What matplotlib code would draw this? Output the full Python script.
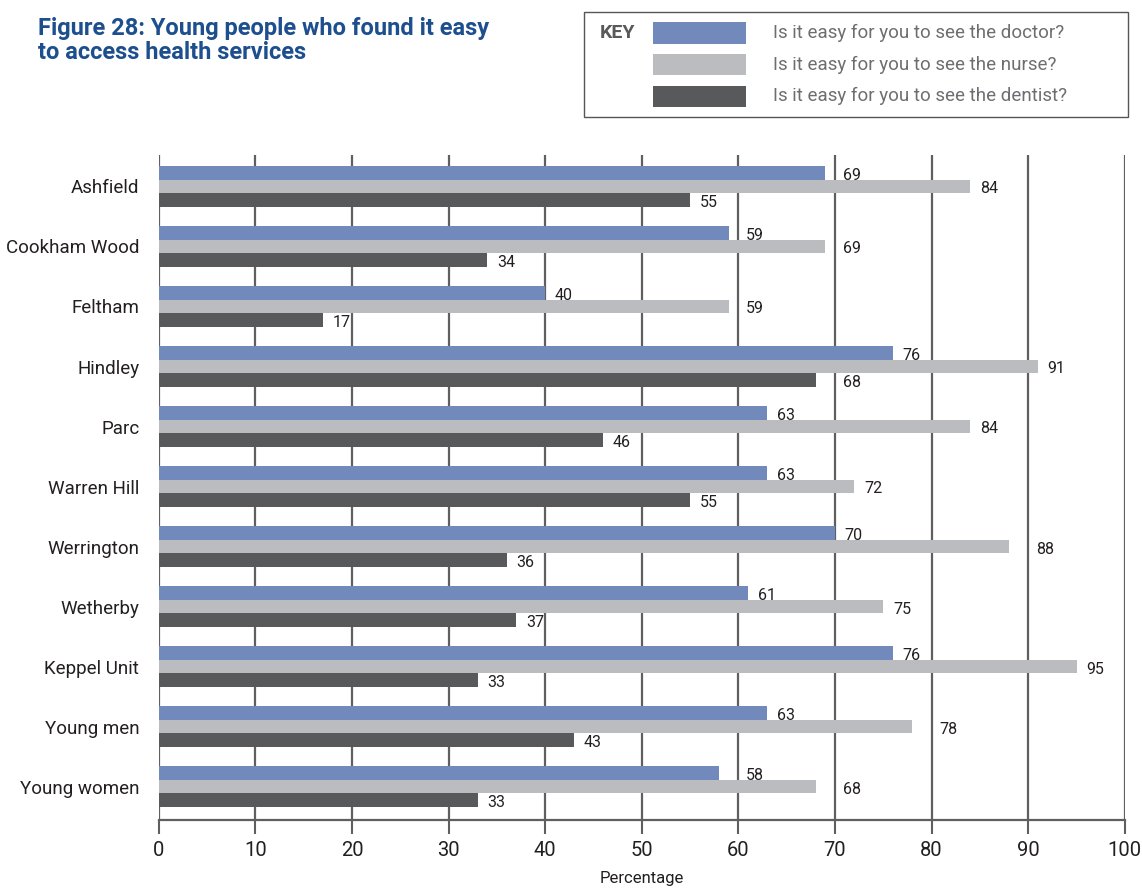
import matplotlib
matplotlib.use("Agg")
import matplotlib.pyplot as plt
import numpy as np
from matplotlib.patches import Rectangle

categories = ["Ashfield", "Cookham Wood", "Feltham", "Hindley", "Parc", "Warren Hill",
              "Werrington", "Wetherby", "Keppel Unit", "Young men", "Young women"]
doctor = [69, 59, 40, 76, 63, 63, 70, 61, 76, 63, 58]
nurse = [84, 69, 59, 91, 84, 72, 88, 75, 95, 78, 68]
dentist = [55, 34, 17, 68, 46, 55, 36, 37, 33, 43, 33]
series_labels = ["Is it easy for you to see the doctor?",
                 "Is it easy for you to see the nurse?",
                 "Is it easy for you to see the dentist?"]
xticks = list(range(0, 101, 10))

colors = ["#7189bb", "#bbbcc0", "#58595b"]
title_color = "#1d4f8f"
grid_color = "#5f5f5f"
text_color = "#231f20"

plt.rcParams['font.family'] = ["Roboto", "DejaVu Sans"]

fig = plt.figure(figsize=(11.42, 8.92), dpi=100)
ax = fig.add_axes([0.139, 0.081, 0.846, 0.745])


def label_x(v):
    # put the value just right of the bar, but hop over a grid line it would sit on
    x0 = v + 1.0
    for t in xticks:
        if x0 - 0.3 < t < x0 + 2.0:
            return t + 0.8
    return x0


y = np.arange(len(categories))
h = 0.225
for k, vals in enumerate([doctor, nurse, dentist]):
    ypos = y + (k - 1) * h
    ax.barh(ypos, vals, height=h, color=colors[k], zorder=3)
    for yy, v in zip(ypos, vals):
        ax.text(label_x(v), yy + 0.04, str(v), va='center', ha='left',
                fontsize=11.5, color=text_color, zorder=4)

ax.set_xlim(0, 100)
ax.set_ylim(10.55, -0.52)
ax.set_yticks(y)
ax.set_yticklabels(categories, fontsize=13.5, color=text_color)
ax.tick_params(axis='y', length=0, pad=14)
ax.set_xticks(xticks)
ax.set_xticklabels([str(t) for t in xticks], fontsize=14.5, color=text_color)
ax.tick_params(axis='x', length=10, width=1.5, color=grid_color, pad=5, direction='out')

for t in xticks:
    ax.axvline(t, color=grid_color, linewidth=1.6, zorder=1)
for s in ['top', 'right', 'left']:
    ax.spines[s].set_visible(False)
ax.spines['bottom'].set_color(grid_color)
ax.spines['bottom'].set_linewidth(1.6)
ax.set_xlabel("Percentage", fontsize=12, color=text_color, labelpad=8)

fig.text(0.033, 0.981, "Figure 28: Young people who found it easy\nto access health services",
         ha='left', va='top', fontsize=17, fontweight='bold', color=title_color,
         linespacing=1.05)

# key box
fig.patches.append(Rectangle((0.511, 0.869), 0.477, 0.118, transform=fig.transFigure,
                             facecolor='white', edgecolor='#555555', linewidth=1.0))
fig.text(0.525, 0.963, "KEY", ha='left', va='center', fontsize=14, fontweight='bold',
         color='#58595b')
for k, lab in enumerate(series_labels):
    yc = 0.963 - k * 0.0355
    fig.patches.append(Rectangle((0.572, yc - 0.012), 0.081, 0.024, transform=fig.transFigure,
                                 facecolor=colors[k], edgecolor='none'))
    fig.text(0.677, yc, lab, ha='left', va='center', fontsize=13.5, color='#6d6e71')

fig.savefig("out.png", dpi=100)
